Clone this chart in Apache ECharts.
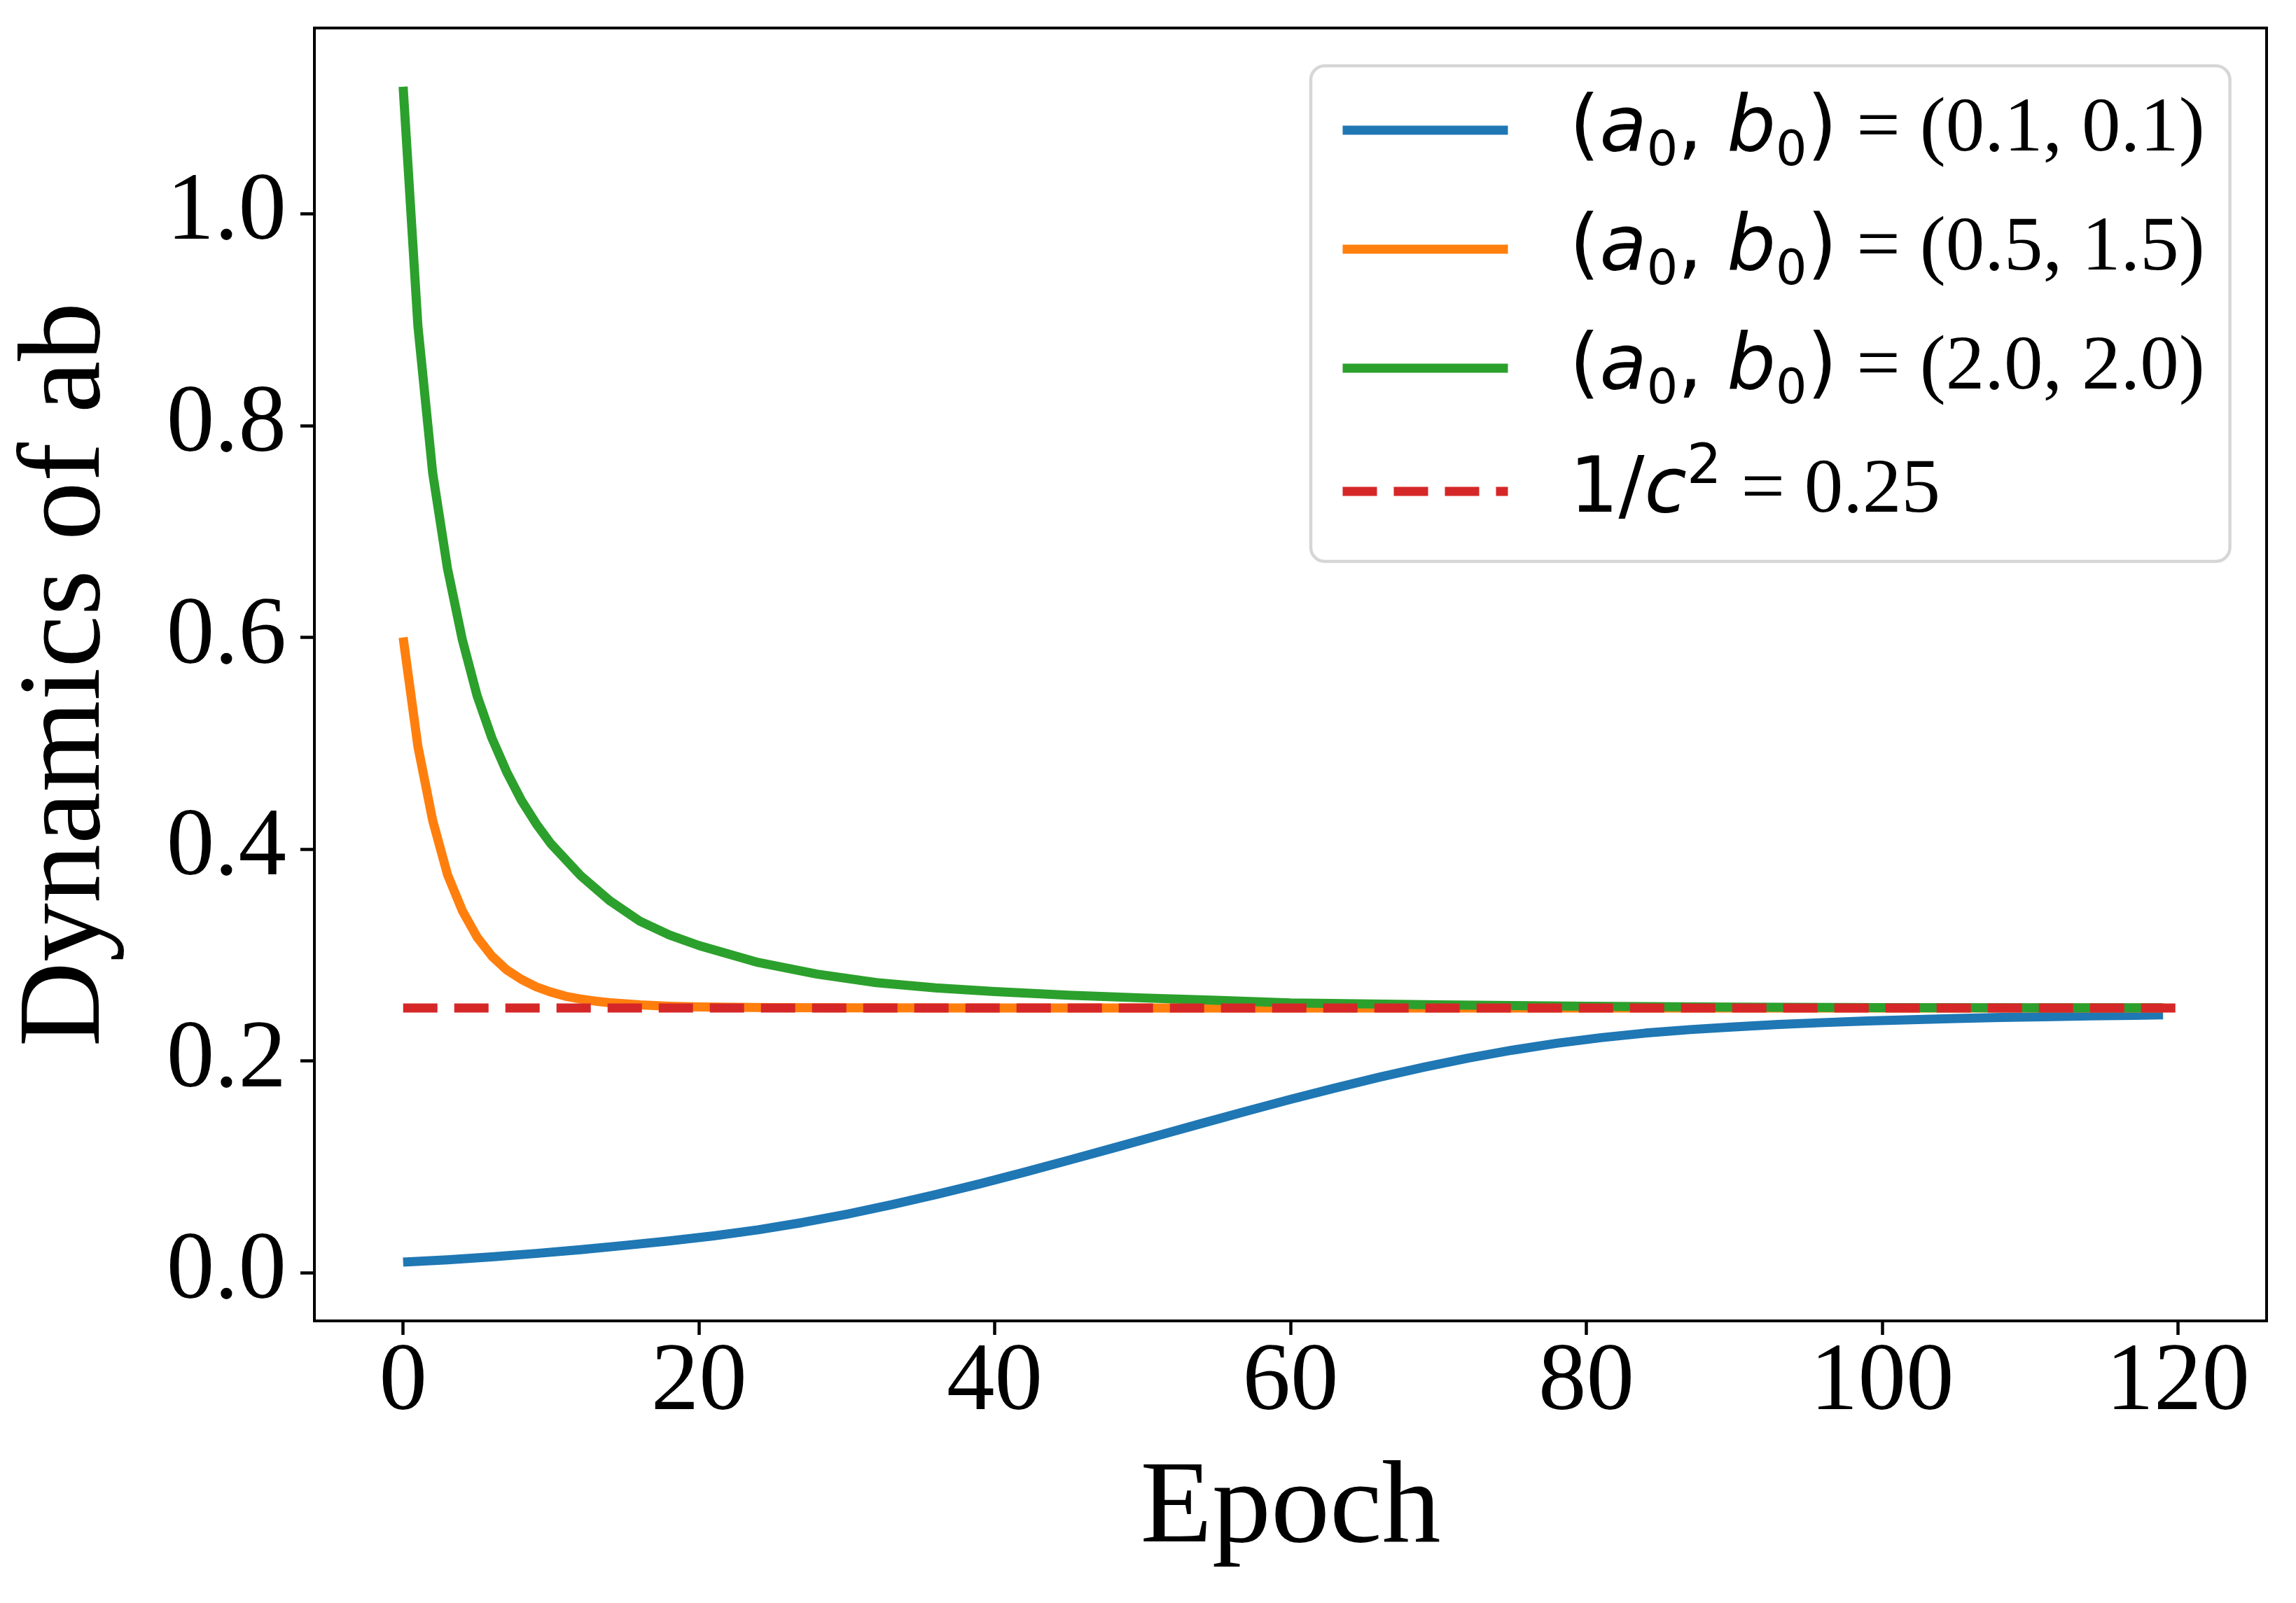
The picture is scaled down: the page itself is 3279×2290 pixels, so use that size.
<!DOCTYPE html>
<html>
<head>
<meta charset="utf-8">
<script src="https://cdn.jsdelivr.net/npm/echarts@6/dist/echarts.min.js"></script>
<style>
html,body{margin:0;padding:0;background:#ffffff;}
#chart{width:3279px;height:2290px;}
</style>
</head>
<body>
<div id="chart"></div>
<script>
// ---- data ----
const blueEpochs = [0,3,6,9,12,15,18,21,24,27,30,33,36,39,42,45,48,51,54,57,60,63,66,69,72,75,78,81,84,87,90,93,96,99,102,105,108,111,114,117,119];
const blueValues = [0.0100,0.0122,0.0150,0.0182,0.0218,0.0258,0.0300,0.0348,0.0405,0.0474,0.0553,0.0641,0.0737,0.0840,0.0949,0.1062,0.1177,0.1293,0.1410,0.1525,0.1637,0.1744,0.1846,0.1940,0.2026,0.2102,0.2167,0.2220,0.2263,0.2296,0.2322,0.2344,0.2362,0.2377,0.2390,0.2401,0.2410,0.2418,0.2425,0.2431,0.2435];

const orangeEpochs = [0,1,2,3,4,5,6,7,8,9,10,11,12,13,14,16,18,20,25,30,40,60,80,100,119];
const orangeValues = [0.600,0.497,0.427,0.376,0.342,0.317,0.299,0.286,0.277,0.270,0.265,0.261,0.2585,0.2565,0.255,0.253,0.2517,0.251,0.2503,0.2501,0.2500,0.2500,0.2500,0.2500,0.2500];

const greenEpochs = [0,1,2,3,4,5,6,7,8,9,10,12,14,16,18,20,24,28,32,36,40,45,50,55,60,70,80,90,100,110,119];
const greenValues = [1.120,0.894,0.755,0.665,0.598,0.545,0.505,0.473,0.446,0.424,0.405,0.375,0.351,0.332,0.319,0.309,0.293,0.282,0.274,0.269,0.2655,0.262,0.2595,0.2573,0.2548,0.2530,0.2517,0.2509,0.2504,0.2502,0.2501];

const redEpochs = [0,120];
const redValues = [0.25,0.25];

const xTicks = [0,20,40,60,80,100,120];
const yTicks = [0.0,0.2,0.4,0.6,0.8,1.0];

const initPairs = ['(0.1, 0.1)','(0.5, 1.5)','(2.0, 2.0)'];
const seriesNames = ['(a0, b0) = (0.1, 0.1)','(a0, b0) = (0.5, 1.5)','(a0, b0) = (2.0, 2.0)','1/c^2 = 0.25'];
const colors = ['#1f77b4','#ff7f0e','#2ca02c','#d62728'];

// ---- build ----
function pairs(xs, ys){ return xs.map((x,i)=>[x, ys[i]]); }

const LW = 13;
function lineSeries(idx, xs, ys, dashed){
  return {
    type:'line', name: seriesNames[idx], data: pairs(xs, ys),
    symbol:'none', showSymbol:false, smooth:false, z: 2 + idx,
    lineStyle:{color:colors[idx], width:LW, type: dashed ? [49,24] : 'solid', cap:'butt', join:'round'},
    itemStyle:{color:colors[idx]},
    emphasis:{disabled:true}
  };
}

function legendLabel(name){
  const i = seriesNames.indexOf(name);
  if (i === 3) return '{p|1/}{i|c}{sp|2}{t| = 0.25}';
  return '{p|(}{i|a}{sb|0}{p|, }{i|b}{sb|0}{p|)}{t| = ' + initPairs[i] + '}';
}

function tickStyle(vals){
  return {show:true, length:20, lineStyle:{color:'#000000', width:4.5}, customValues:vals};
}

const chart = echarts.init(document.getElementById('chart'), null, {renderer:'canvas'});
chart.setOption({
  animation:false,
  backgroundColor:'#ffffff',
  grid:{left:449, right:42, top:40, bottom:403, show:true, borderColor:'#000', borderWidth:4, containLabel:false},
  xAxis:{
    type:'value', min:-6, max:126,
    name:'Epoch', nameLocation:'middle', nameGap:187,
    nameTextStyle:{fontFamily:'Liberation Serif', fontSize:168, color:'#000'},
    axisLine:{show:true, onZero:false, lineStyle:{color:'#000', width:4}},
    splitLine:{show:false},
    axisTick:tickStyle(xTicks),
    axisLabel:{show:true, margin:22, fontFamily:'Liberation Serif', fontSize:137, color:'#000', customValues:xTicks, formatter:(v)=>String(v)}
  },
  yAxis:{
    type:'value', min:-0.0455, max:1.1755,
    name:'Dynamics of ab', nameLocation:'middle', nameGap:268,
    nameTextStyle:{fontFamily:'Liberation Serif', fontSize:168, color:'#000'},
    axisLine:{show:true, onZero:false, lineStyle:{color:'#000', width:4}},
    splitLine:{show:false},
    axisTick:tickStyle(yTicks),
    axisLabel:{show:true, margin:40, fontFamily:'Liberation Serif', fontSize:137, color:'#000', customValues:yTicks, formatter:(v)=>v.toFixed(1)}
  },
  legend:{
    show:true, orient:'vertical', left:1872, top:94,
    padding:[27,36,35,39],
    itemWidth:236, itemHeight:12, itemGap:38,
    backgroundColor:'#ffffff', borderColor:'#d6d6d6', borderWidth:4.5, borderRadius:20,
    itemStyle:{opacity:0},
    lineStyle:{width:LW},
    selectedMode:false,
    data: seriesNames,
    formatter: legendLabel,
    textStyle:{
      color:'#000', fontFamily:'Liberation Serif', fontSize:111, lineHeight:130, padding:[0,0,0,83],
      rich:{
        p:{fontFamily:'DejaVu Sans', fontSize:110, color:'#000'},
        i:{fontFamily:'DejaVu Sans', fontStyle:'italic', fontSize:110, color:'#000'},
        sb:{fontFamily:'DejaVu Sans', fontSize:70, color:'#000', padding:[64,0,0,0]},
        sp:{fontFamily:'DejaVu Sans', fontSize:78, color:'#000', padding:[0,0,64,0]},
        t:{fontFamily:'Liberation Serif', fontSize:111, color:'#000'}
      }
    }
  },
  series:[
    lineSeries(0, blueEpochs, blueValues, false),
    lineSeries(1, orangeEpochs, orangeValues, false),
    lineSeries(2, greenEpochs, greenValues, false),
    lineSeries(3, redEpochs, redValues, true)
  ]
});
</script>
</body>
</html>
